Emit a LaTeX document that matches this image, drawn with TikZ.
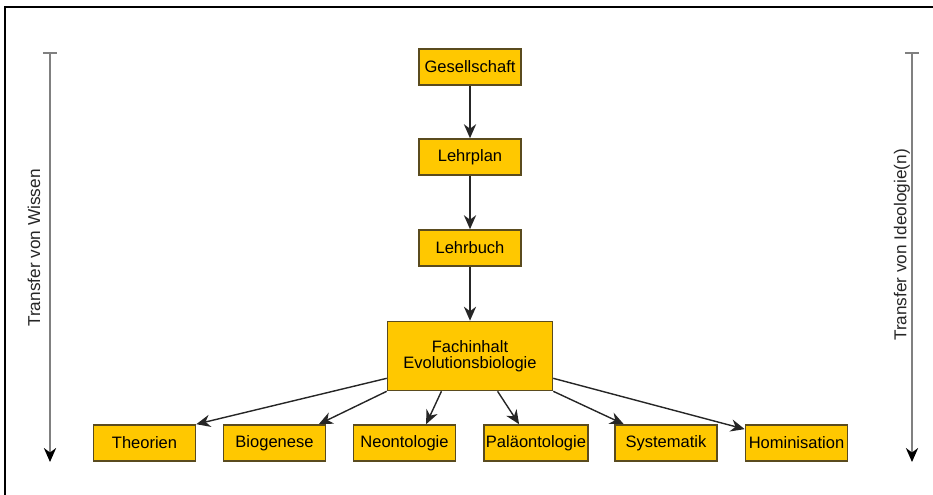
\documentclass[tikz,border=0pt]{standalone}
\usepackage{fontspec}
\setmainfont{Liberation Sans}
\usetikzlibrary{positioning,arrows.meta}

\definecolor{boxyellow}{RGB}{255,200,0}
\definecolor{boxline}{RGB}{90,75,30}

\tikzset{
	stage/.style={draw=boxline, fill=boxyellow, line width=0.9pt, minimum width=2.04cm,
		minimum height=0.72cm, inner sep=1pt, font=\fontsize{9.4}{10}\selectfont},
	flow/.style={-{Stealth[length=8pt,width=7pt]}, thick, black!85},
	transfer/.style={{Bar[width=8pt]}-{Stealth[length=8pt,width=7pt,color=black]}, gray, line width=0.9pt},
	sidetext/.style={rotate=90, font=\fontsize{9.8}{11}\selectfont, text=black!85}
}

\begin{document}
\begin{tikzpicture}[x=0.02cm, y=-0.02cm]

		% page and frame
		\useasboundingbox (0,0) rectangle (933,494);
		\clip (0,0) rectangle (933,494);
		\draw[line width=1.6pt] (5,7) rectangle (960,520);

		% chain from top
		\node[stage] (gesellschaft) at (470,67) {Gesellschaft};
		\node[stage] (lehrplan) at (470,157) {Lehrplan};
		\node[stage] (lehrbuch) at (470,248) {Lehrbuch};
		\node[stage, minimum width=3.3cm, minimum height=1.38cm, align=center,
			font=\fontsize{9.4}{9.4}\selectfont] (fachinhalt) at (470,356)
			{Fachinhalt\\Evolutionsbiologie};

		% subject areas
		\node[stage] (theorien) at (144.5,443) {Theorien};
		\node[stage] (biogenese) at (274.5,443) {Biogenese};
		\node[stage] (neontologie) at (404.5,443) {Neontologie};
		\node[stage] (palaeontologie) at (536,443) {Paläontologie};
		\node[stage] (systematik) at (666,443) {Systematik};
		\node[stage] (hominisation) at (796.5,443) {Hominisation};

		\draw[flow] (gesellschaft) -- (lehrplan);
		\draw[flow] (lehrplan) -- (lehrbuch);
		\draw[flow] (lehrbuch) -- (fachinhalt);

		\draw[flow] (fachinhalt.195) -- (theorien.north east);
		\draw[flow] (fachinhalt.south west) -- (biogenese.23);
		\draw[flow] (fachinhalt.231) -- (neontologie.41);
		\draw[flow] (fachinhalt.308) -- (palaeontologie.132);
		\draw[flow] (fachinhalt.south east) -- (systematik.156);
		\draw[flow] (fachinhalt.345) -- (hominisation.165);

		% side arrows
		\coordinate (wissentop) at (50,52);
		\coordinate (wissenend) at (50,462);
		\coordinate (ideologietop) at (912,52);
		\coordinate (ideologieend) at (912,462);
		\draw[transfer] (wissentop) -- (wissenend);
		\draw[transfer] (ideologietop) -- (ideologieend);
		\node[sidetext] (wissen) at (34,248) {Transfer von Wissen};
		\node[sidetext] (ideologie) at (902,245) {Transfer von Ideologie(n)};

	\end{tikzpicture}
\end{document}
